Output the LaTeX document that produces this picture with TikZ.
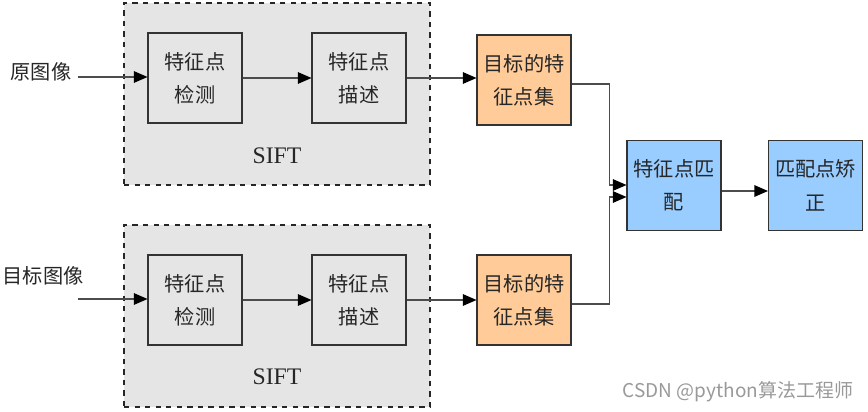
\documentclass[tikz,border=0pt]{standalone}
\usepackage{fontspec}
\setmainfont{Liberation Serif}
\newfontfamily\cjk{Noto Sans CJK SC}
\usetikzlibrary{arrows.meta, positioning}

\begin{document}
\begin{tikzpicture}[x=0.2mm, y=-0.2mm, >={Triangle[length=2.7mm, width=2.3mm, color=black]},
    box/.style={rectangle, draw=black!80, line width=0.6pt, minimum width=18.8mm, minimum height=18mm, align=center, text=black!85, font=\cjk\fontsize{11.5}{19}\selectfont},
    sift/.style={rectangle, draw=black!85, dashed, line width=0.6pt, fill=black!10, minimum width=61.2mm, minimum height=36.4mm},
    lbl/.style={text=black!85, font=\cjk\fontsize{11.5}{14}\selectfont},
    conn/.style={draw=black!70, line width=0.6pt}]

\useasboundingbox (0,0) rectangle (868,412);

% SIFT stages
\node[sift] (sift1) at (277,94) {};
\node[sift] (sift2) at (277,316) {};
\node[font=\fontsize{13.5}{15}\selectfont, text=black!85] (siftlbl1) at (277,156) {SIFT};
\node[font=\fontsize{13.5}{15}\selectfont, text=black!85] (siftlbl2) at (277,377) {SIFT};

% inputs
\node[lbl] (src) at (41,72) {原图像};
\node[lbl] (tgt) at (43,276) {目标图像};
\coordinate (in1) at (78,77);
\coordinate (in2) at (78,299);

\node[box] (det1) at (195,78) {特征点\\检测};
\node[box] (desc1) at (359,78) {特征点\\描述};
\node[box] (det2) at (195,300) {特征点\\检测};
\node[box] (desc2) at (359,300) {特征点\\描述};

\node[box, fill={rgb,255:red,255;green,204;blue,153}] (fs1) at (524,80) {目标的特\\征点集};
\node[box, fill={rgb,255:red,255;green,204;blue,153}] (fs2) at (524,300) {目标的特\\征点集};

\node[box, fill={rgb,255:red,153;green,204;blue,255}] (match) at (674,185.5) {特征点匹\\配};
\node[box, fill={rgb,255:red,153;green,204;blue,255}] (correct) at (815.5,185.5) {匹配点矫\\正};

\draw[conn, ->] (in1) -- (det1.west |- in1);
\draw[conn, ->] (det1) -- (desc1);
\draw[conn, ->] (desc1.east) -- (fs1.west |- desc1.east);
\draw[conn, ->] (in2) -- (det2.west |- in2);
\draw[conn, ->] (det2) -- (desc2);
\draw[conn, ->] (desc2) -- (fs2);

\draw[conn, ->] ([yshift=-0.8mm]fs1.east) -- ++(38,0) |- ([yshift=0.1mm]match.west);
\draw[conn, ->] ([yshift=-0.8mm]fs2.east) -- ++(38,0) |- ([yshift=-2.3mm]match.west);
\draw[conn, ->] ([yshift=-1.1mm]match.east) -- ([yshift=-1.1mm]correct.west);

\node[text=black!40, font=\cjk\fontsize{10.8}{12}\selectfont] (mark) at (738,392) {CSDN @python算法工程师};

\end{tikzpicture}
\end{document}
